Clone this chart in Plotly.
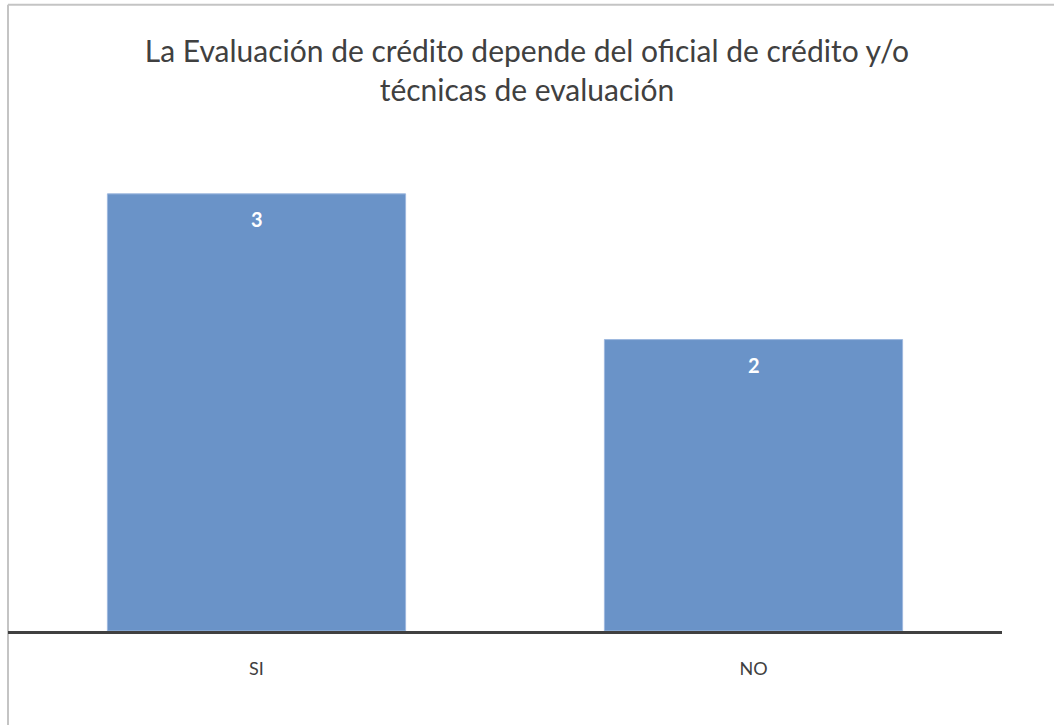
import plotly.graph_objects as go

categories = ["SI", "NO"]
values = [3, 2]
title_text = "La Evaluación de crédito depende del oficial de crédito y/o<br>técnicas de evaluación"

FONT = "Lato"
BAR_COLOR = "#6A93C8"
BAR_EDGE = "#9DB8DE"
FRAME = "#C4C4C4"

fig = go.Figure()
fig.add_trace(go.Bar(
    x=categories,
    y=values,
    width=0.6,
    marker=dict(color=BAR_COLOR, line=dict(color=BAR_EDGE, width=1)),
    hoverinfo="x+y",
))

# value labels just inside the top of each bar
for c, v in zip(categories, values):
    fig.add_annotation(
        x=c, y=v, text=f"<b>{v}</b>", showarrow=False,
        yanchor="middle", yshift=-25,
        font=dict(family=FONT, size=20, color="white"),
    )

# chart frame edges (left and top)
fig.add_shape(type="line", xref="paper", yref="paper",
              x0=0, x1=0, y0=-1, y1=1.228,
              line=dict(color=FRAME, width=2), layer="below")
fig.add_shape(type="line", xref="paper", yref="paper",
              x0=0, x1=2, y0=1.228, y1=1.228,
              line=dict(color=FRAME, width=2), layer="below")

fig.update_layout(
    width=1054, height=725,
    margin=dict(l=8, r=52, t=120.5, b=93.5),
    paper_bgcolor="white", plot_bgcolor="white",
    showlegend=False,
    font=dict(family=FONT, color="#404040"),
    title=dict(
        text=title_text, x=0.5, xanchor="center", xref="container",
        y=0.915, yanchor="top", yref="container",
        font=dict(family=FONT, size=30, color="#404040"),
    ),
    xaxis=dict(
        showline=True, linecolor="#404040", linewidth=3,
        ticks="", showgrid=False, ticklabelstandoff=19,
        tickfont=dict(family=FONT, size=18, color="#404040"),
    ),
    yaxis=dict(
        range=[0, 3.5], visible=False, showgrid=False, zeroline=False,
    ),
)

fig.write_html("out.html")
